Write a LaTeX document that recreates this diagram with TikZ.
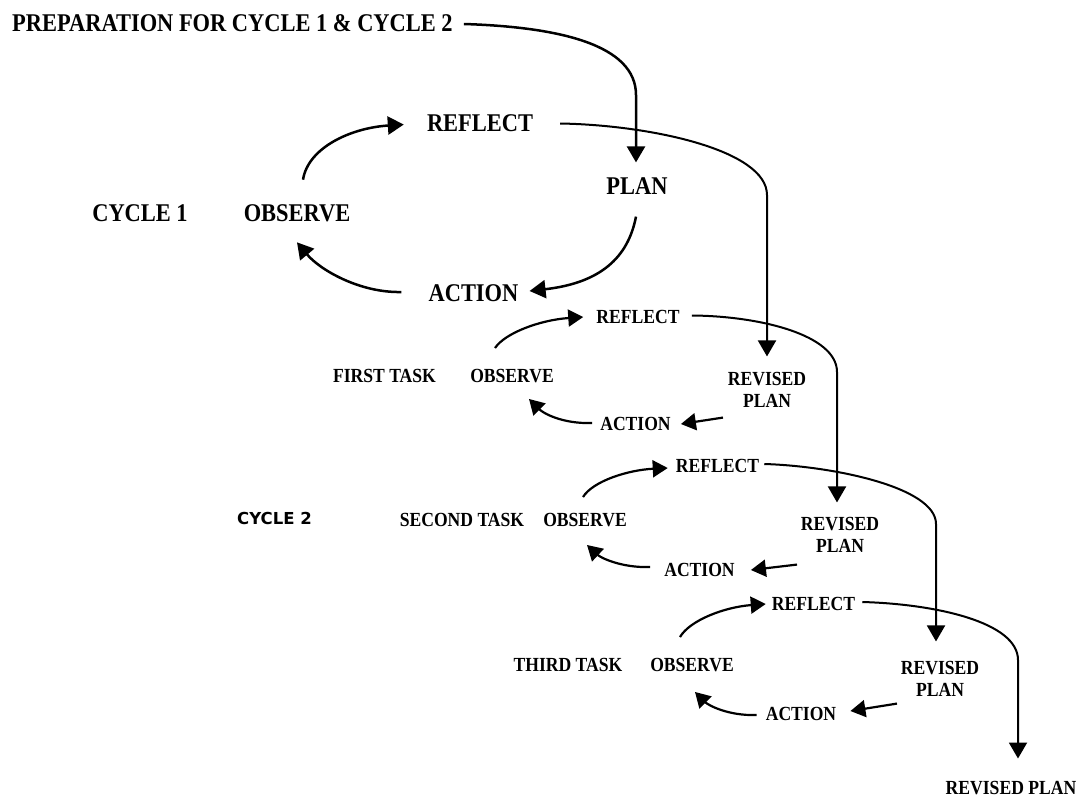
\documentclass[tikz,border=0pt]{standalone}
\usepackage{fontspec}
\setmainfont[FakeStretch=0.88]{Liberation Serif}
\newfontfamily\cyclefont{DejaVu Sans}
\usetikzlibrary{arrows.meta,calc}
\tikzset{
  big/.style={font=\fontsize{25.5}{27}\selectfont\bfseries, inner sep=0pt},
  small/.style={font=\fontsize{20}{21.5}\selectfont\bfseries, inner sep=0pt, align=center},
  sanslbl/.style={font=\cyclefont\fontsize{16.5}{18}\selectfont\bfseries, inner sep=0pt},
  arrbig/.style={line width=2.5pt, -{Triangle[length=16pt,width=18pt]}},
  arrsmall/.style={line width=2.2pt, -{Triangle[length=15pt,width=17pt]}},
  arrlong/.style={line width=2pt, -{Triangle[length=16pt,width=18pt]}}
}
\begin{document}
\begin{tikzpicture}[x=1pt,y=-1pt]
\useasboundingbox (0,0) rectangle (1087,798);
% cycle 1
\node[big, anchor=west] (prep) at (12,23.5) {PREPARATION FOR CYCLE 1 \& CYCLE 2};
\node[big] (ref0) at (480,123.5) {REFLECT};
\node[big] (plan0) at (637,186) {PLAN};
\node[big] (cyc1) at (140,213.5) {CYCLE 1};
\node[big] (obs0) at (297,213.5) {OBSERVE};
\node[big] (act0) at (473.5,293) {ACTION};
% first task
\node[small] (ref1) at (638,316.5) {REFLECT};
\node[small] (first) at (384.5,376) {FIRST TASK};
\node[small] (obs1) at (512,376) {OBSERVE};
\node[small] (rp1) at (767,390) {REVISED\\PLAN};
\node[small] (act1) at (635.5,424) {ACTION};
% second task
\node[small] (ref2) at (717.5,466) {REFLECT};
\node[sanslbl] (cyc2) at (274.5,518.5) {CYCLE 2};
\node[small] (second) at (462,520) {SECOND TASK};
\node[small] (obs2) at (585,520) {OBSERVE};
\node[small] (rp2) at (840,535) {REVISED\\PLAN};
\node[small] (act2) at (699.5,570) {ACTION};
% third task
\node[small] (ref3) at (813.5,603.5) {REFLECT};
\node[small] (third) at (568,665) {THIRD TASK};
\node[small] (obs3) at (692,665) {OBSERVE};
\node[small] (rp3) at (940,679) {REVISED\\PLAN};
\node[small] (act3) at (801,714) {ACTION};
\node[small] (rpf) at (1011,788.5) {REVISED PLAN};

% connectors cycle 1
\draw[arrbig] ($(prep.east)+(11,0.5)$) .. controls (560,27) and (636,45) .. (636,95) -- ($(plan0.north)+(-1,-15)$);
\draw[arrlong] ($(ref0.east)+(27,0)$) .. controls (650,125) and (767,150) .. (767,195) -- ($(rp1.north)+(0,-16)$);
\draw[arrbig] ($(plan0.south)+(-1,22)$) .. controls (628,258) and (600,283) .. ($(act0.east)+(11,-2)$);
\draw[arrbig] ($(act0.west)+(-27,-1)$) .. controls (360,293) and (320,270) .. ($(obs0.south)+(0,20)$);
\draw[arrbig] ($(obs0.north)+(6,-25)$) .. controls (308,148) and (350,128) .. ($(ref0.west)+(-23,1)$);

% first task
\draw[arrsmall] ($(obs1.north)+(-17,-21)$) .. controls (505,333) and (540,320) .. ($(ref1.west)+(-13,0.5)$);
\draw[arrsmall] ($(act1.west)+(-8,-1)$) .. controls (562,424) and (543,413) .. ($(obs1.south)+(17,16)$);
\draw[arrsmall] ($(rp1.south)+(-44,10)$) -- ($(act1.east)+(10,0)$);
\draw[arrlong] ($(ref1.east)+(12,-1)$) .. controls (760,316) and (837,335) .. (837,372) -- ($(rp2.north)+(-3,-15)$);

% second task
\draw[arrsmall] ($(obs2.north)+(-2,-16)$) .. controls (593,481) and (628,470) .. ($(ref2.west)+(-8,2)$);
\draw[arrsmall] ($(act2.west)+(-14,-3)$) .. controls (622,568) and (601,558) .. ($(obs2.south)+(2,18)$);
\draw[arrsmall] ($(rp2.south)+(-43,12)$) -- ($(act2.east)+(16,0)$);
\draw[arrlong] ($(ref2.east)+(5,-2)$) .. controls (832,466) and (936,487) .. (936,524) -- ($(rp3.north)+(-4,-20)$);

% third task
\draw[arrsmall] ($(obs3.north)+(-12,-21)$) .. controls (690,620) and (725,607) .. ($(ref3.west)+(-6,0.5)$);
\draw[arrsmall] ($(act3.west)+(-9,1)$) .. controls (728,716) and (708,705) .. ($(obs3.south)+(3,20)$);
\draw[arrsmall] ($(rp3.south)+(-43,7)$) -- ($(act3.east)+(14,-3)$);
\draw[arrlong] ($(ref3.east)+(7,-1.5)$) .. controls (935,604) and (1018,622) .. (1018,660) -- ($(rpf.north)+(7,-23)$);
\end{tikzpicture}
\end{document}
